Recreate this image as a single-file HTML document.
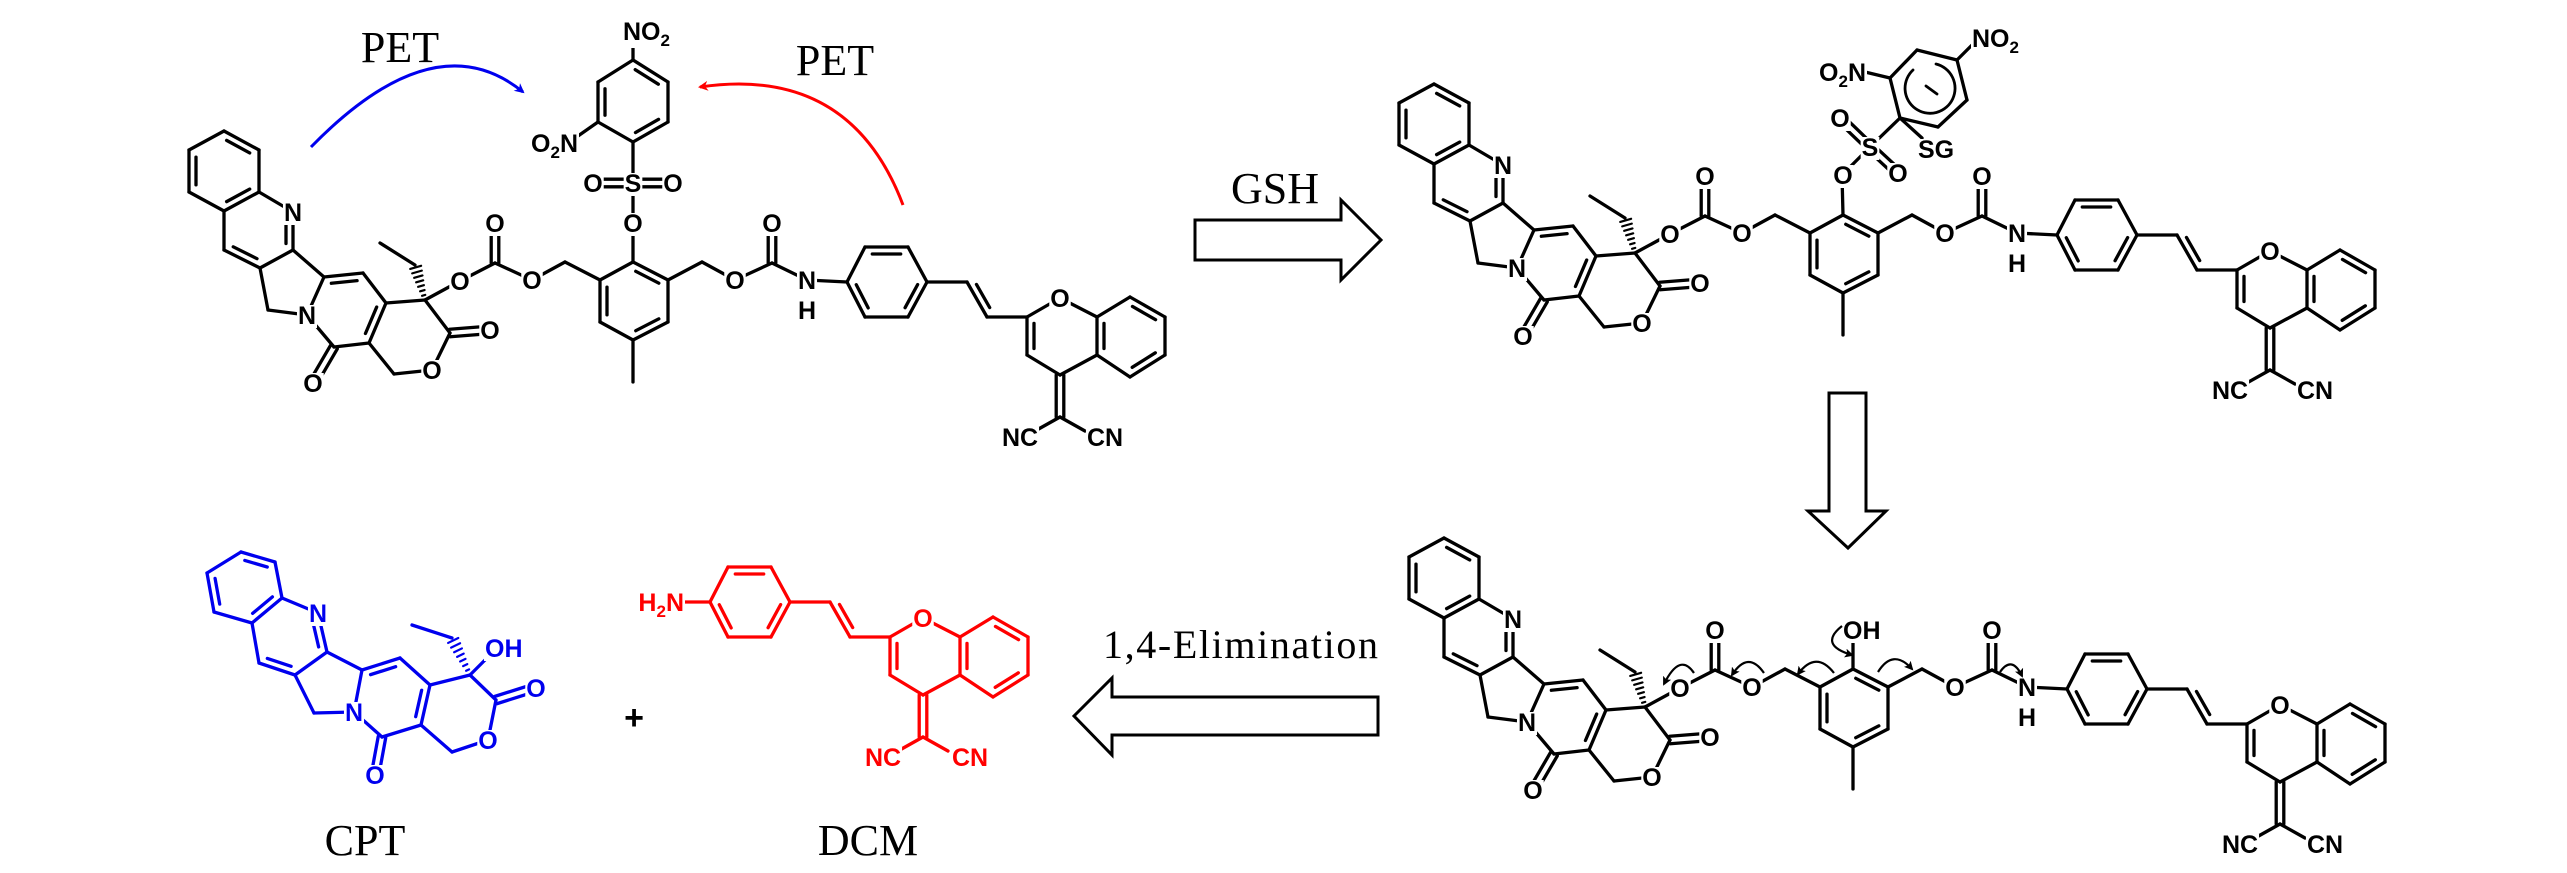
<!DOCTYPE html>
<html><head><meta charset="utf-8">
<style>
html,body{margin:0;padding:0;background:#fff;}
svg{display:block;}
.a{font-family:"Liberation Sans",Arial,sans-serif;font-size:25px;font-weight:bold;text-anchor:middle;}
.k{fill:#000}.bl{fill:#0000ee}.rd{fill:#ff0000}
.t{font-family:"Liberation Serif","Times New Roman",serif;font-size:44px;text-anchor:middle;fill:#000;}
.s{font-size:17px}
</style></head>
<body>
<svg id="s" xmlns="http://www.w3.org/2000/svg" width="2567" height="873" viewBox="0 0 2567 873">
<defs>
<marker id="mb" markerWidth="10" markerHeight="10" refX="8" refY="5" orient="auto" markerUnits="userSpaceOnUse" viewBox="0 0 10 10"><path d="M0,0 L10,5 L0,10 L3,5z" fill="#0000ee"/></marker>
<marker id="mr" markerWidth="10" markerHeight="10" refX="8" refY="5" orient="auto" markerUnits="userSpaceOnUse" viewBox="0 0 10 10"><path d="M0,0 L10,5 L0,10 L3,5z" fill="#ff0000"/></marker>
<marker id="mk" markerWidth="9" markerHeight="9" refX="7" refY="4.5" orient="auto" markerUnits="userSpaceOnUse" viewBox="0 0 9 9"><path d="M0,0 L9,4.5 L0,9 L2,4.5z" fill="#000"/></marker>
</defs>
<rect width="2567" height="873" fill="#fff"/>
<g id="b" stroke-linecap="round" stroke-linejoin="round" fill="none"></g>
<g id="m"></g>

<path d="M311,147 Q435,20 523,92" stroke="#0000ee" stroke-width="3" fill="none" marker-end="url(#mb)"/>
<path d="M903,205 Q850,65 700,87" stroke="#ff0000" stroke-width="3" fill="none" marker-end="url(#mr)"/>
<text class="t" x="400" y="62">PET</text>
<text class="t" x="835" y="75">PET</text>

<polygon points="1195,220 1341,220 1341,200 1381,240 1341,280 1341,260 1195,260" fill="#fff" stroke="#000" stroke-width="3"/>
<text class="t" x="1275" y="203">GSH</text>
<polygon points="1829,393 1866,393 1866,511 1886,511 1848,548 1808,511 1829,511" fill="#fff" stroke="#000" stroke-width="3"/>
<polygon points="1378,697 1112,697 1112,678 1074,716 1112,755 1112,735 1378,735" fill="#fff" stroke="#000" stroke-width="3"/>
<text class="t" x="1103" y="658" style="text-anchor:start;font-size:40px" textLength="275">1,4-Elimination</text>
<text class="t" x="365" y="855">CPT</text>
<text class="t" x="868" y="855">DCM</text>
<text x="634" y="729" style="font-family:'Liberation Sans',sans-serif;font-size:34px;font-weight:bold;text-anchor:middle">+</text>

<g stroke="#000" stroke-width="2.2" fill="none" marker-end="url(#mk)">
<path d="M1694,673 Q1680,652 1664,684"/>
<path d="M1764,673 Q1748,650 1732,675"/>
<path d="M1834,673 Q1816,650 1798,674"/>
<path d="M1842,626 Q1818,645 1852,655"/>
<path d="M1878,672 Q1893,648 1912,669"/>
<path d="M2000,672 Q2012,655 2022,676"/>
</g>

<g class="a k">
<text x="293" y="221">N</text><text x="307" y="324">N</text><text x="313" y="392">O</text>
<text x="432" y="379">O</text><text x="490" y="339">O</text><text x="460" y="290">O</text>
<text x="495" y="232">O</text><text x="532" y="289">O</text><text x="735" y="289">O</text>
<text x="772" y="232">O</text><text x="807" y="289">N</text><text x="807" y="319">H</text>
<text x="1060" y="307">O</text><text x="1020" y="446">NC</text><text x="1105" y="446">CN</text>
<text x="633" y="232">O</text><text x="633" y="192">S</text><text x="593" y="192">O</text><text x="673" y="192">O</text>
<text x="623" y="40" style="text-anchor:start">NO<tspan class="s" dy="6">2</tspan></text>
<text x="578" y="152" style="text-anchor:end">O<tspan class="s" dy="6">2</tspan><tspan dy="-6">N</tspan></text>
</g>
<g class="a k">
<text x="1503" y="174">N</text><text x="1517" y="277">N</text><text x="1523" y="345">O</text>
<text x="1642" y="332">O</text><text x="1700" y="292">O</text><text x="1670" y="243">O</text>
<text x="1705" y="185">O</text><text x="1742" y="242">O</text><text x="1945" y="242">O</text>
<text x="1982" y="185">O</text><text x="2017" y="242">N</text><text x="2017" y="272">H</text>
<text x="2270" y="260">O</text><text x="2230" y="399">NC</text><text x="2315" y="399">CN</text>
<text x="1843" y="184">O</text><text x="1870" y="156">S</text><text x="1840" y="127">O</text><text x="1898" y="182">O</text>
<text x="1866" y="81" style="text-anchor:end">O<tspan class="s" dy="6">2</tspan><tspan dy="-6">N</tspan></text>
<text x="1972" y="47" style="text-anchor:start">NO<tspan class="s" dy="6">2</tspan></text>
<text x="1918" y="158" style="text-anchor:start">SG</text>
</g>
<g class="a k">
<text x="1513" y="628">N</text><text x="1527" y="731">N</text><text x="1533" y="799">O</text>
<text x="1652" y="786">O</text><text x="1710" y="746">O</text><text x="1680" y="697">O</text>
<text x="1715" y="639">O</text><text x="1752" y="696">O</text><text x="1955" y="696">O</text>
<text x="1992" y="639">O</text><text x="2027" y="696">N</text><text x="2027" y="726">H</text>
<text x="2280" y="714">O</text><text x="2240" y="853">NC</text><text x="2325" y="853">CN</text>
<text x="1843" y="639" style="text-anchor:start">OH</text>
</g>
<g class="a bl">
<text x="318" y="622">N</text><text x="354" y="721">N</text><text x="375" y="784">O</text>
<text x="488" y="749">O</text><text x="536" y="697">O</text>
<text x="485" y="657" style="text-anchor:start">OH</text>
</g>
<g class="a rd">
<text x="684" y="611" style="text-anchor:end">H<tspan class="s" dy="6">2</tspan><tspan dy="-6">N</tspan></text>
<text x="923" y="627">O</text><text x="883" y="766">NC</text><text x="970" y="766">CN</text>
</g>
</svg>
<script>
(function(){
var NS='http://www.w3.org/2000/svg',G=document.getElementById('b'),SW=3.3;
function ln(x1,y1,x2,y2,c){var l=document.createElementNS(NS,'line');l.setAttribute('x1',x1);l.setAttribute('y1',y1);l.setAttribute('x2',x2);l.setAttribute('y2',y2);l.setAttribute('stroke',c);l.setAttribute('stroke-width',SW);G.appendChild(l);}
var A={b1:[224,131],b2:[259,150],b3:[259,192],b4:[224,211],b5:[189,192],b6:[189,150],
N1:[293,212],C2:[293,250],C3:[260,268],C4:[224,250],CH2a:[268,310],N2:[307,315],C5:[324,277],C6:[363,273],C7:[386,303],C8:[369,343],C9:[334,347],O9:[313,383],
Q:[425,300],L1:[450,333],OL:[488,330],Or:[432,370],CH2b:[394,374],E1:[415,265],E2:[380,243],
Oc1:[460,281],Cc:[495,263],Occ:[495,223],Oc2:[532,280],M1:[565,262],
R1:[633,262],R2:[668,280],R3:[668,322],R4:[633,340],R5:[600,322],R6:[600,280],Me:[633,382],
M2:[702,262],Ob:[735,280],Cb:[772,263],Ocb:[772,223],Nb:[807,280],
P1:[847,282],P2:[865,247],P3:[908,247],P4:[927,282],P5:[908,317],P6:[865,317],
V1:[967,282],V2:[987,317],K2:[1027,317],KO:[1060,298],K8a:[1097,317],K4a:[1097,355],K4:[1060,375],K3:[1027,355],
Z1:[1130,297],Z2:[1165,317],Z3:[1165,355],Z4:[1130,377],X:[1060,417],XN1:[1035,431],XN2:[1085,431],NH2:[820,282],
Os:[633,223],S:[633,183],OsL:[593,183],OsR:[673,183],D1:[633,142],D2:[598,122],D3:[598,82],D4:[633,60],D5:[668,82],D6:[668,122],DN1:[578,136],DN2:[633,38]};
var C={cb:[224,171],cp:[259,231],cq:[347,308],cr:[634,301],cph:[886,282],vc:[1000,290],cpy:[1062,336],cz:[1131,336],cd:[633,102]};
var core=[['b1','b2',2,'cb'],['b2','b3'],['b3','b4',2,'cb'],['b4','b5'],['b5','b6',2,'cb'],['b6','b1'],['b3','N1'],['N1','C2',2,'cp'],['C2','C3'],['C3','C4',2,'cp'],['C4','b4'],['C3','CH2a'],['CH2a','N2'],['N2','C5'],['C5','C2'],['C5','C6',2,'cq'],['C6','C7'],['C7','C8',2,'cq'],['C8','C9'],['C9','N2'],['C9','O9','d'],['C7','Q'],['Q','L1'],['L1','OL','d'],['L1','Or'],['Or','CH2b'],['CH2b','C8'],['Q','E1','h'],['E1','E2']];
var dye=[['P1','P2'],['P2','P3',2,'cph'],['P3','P4'],['P4','P5',2,'cph'],['P5','P6'],['P6','P1',2,'cph'],['P4','V1'],['V1','V2',2,'vc'],['V2','K2'],['K2','KO'],['KO','K8a'],['K8a','K4a',2,'cz'],['K4a','K4'],['K4','K3'],['K3','K2',2,'cpy'],['K8a','Z1'],['Z1','Z2',2,'cz'],['Z2','Z3'],['Z3','Z4',2,'cz'],['Z4','K4a'],['K4','X','d'],['X','XN1'],['X','XN2']];
var link=[['Q','Oc1'],['Oc1','Cc'],['Cc','Occ','d'],['Cc','Oc2'],['Oc2','M1'],['M1','R6'],['R1','R2',2,'cr'],['R2','R3'],['R3','R4',2,'cr'],['R4','R5'],['R5','R6',2,'cr'],['R6','R1'],['R4','Me'],['R2','M2'],['M2','Ob'],['Ob','Cb'],['Cb','Ocb','d'],['Cb','Nb'],['Nb','P1']].concat(dye);
var top1=[['R1','Os'],['Os','S'],['S','OsL','d'],['S','OsR','d'],['S','D1'],['D1','D2'],['D2','D3',2,'cd'],['D3','D4'],['D4','D5',2,'cd'],['D5','D6'],['D6','D1',2,'cd'],['D2','DN1'],['D4','DN2']];
function draw(atoms,centers,list,dx,dy,col){
 list.forEach(function(b){
  var p=atoms[b[0]],q=atoms[b[1]];
  var x1=p[0]+dx,y1=p[1]+dy,x2=q[0]+dx,y2=q[1]+dy;
  var vx=x2-x1,vy=y2-y1,L=Math.hypot(vx,vy),ux=vx/L,uy=vy/L,nx=-uy,ny=ux;
  if(b[2]==='d'){ln(x1+nx*3.8,y1+ny*3.8,x2+nx*3.8,y2+ny*3.8,col);ln(x1-nx*3.8,y1-ny*3.8,x2-nx*3.8,y2-ny*3.8,col);return;}
  if(b[2]==='h'){for(var i=1;i<=7;i++){var t=i/7.5,w=1+t*5;var cx=x1+vx*t,cy=y1+vy*t;var l=document.createElementNS(NS,'line');l.setAttribute('x1',cx+nx*w);l.setAttribute('y1',cy+ny*w);l.setAttribute('x2',cx-nx*w);l.setAttribute('y2',cy-ny*w);l.setAttribute('stroke',col);l.setAttribute('stroke-width',2.2);G.appendChild(l);}return;}
  ln(x1,y1,x2,y2,col);
  if(b[2]===2){var c=centers[b[3]],cx=c[0]+dx,cy=c[1]+dy,mx=(x1+x2)/2,my=(y1+y2)/2;
   if((cx-mx)*nx+(cy-my)*ny<0){nx=-nx;ny=-ny;}
   var o=7,s=L*0.17;ln(x1+nx*o+ux*s,y1+ny*o+uy*s,x2+nx*o-ux*s,y2+ny*o-uy*s,col);}
 });
}
var K='#000';
draw(A,C,core.concat(link).concat(top1),0,0,K);
draw(A,C,core.concat(link),1210,-47,K);
var A2={R1:[1843,215],Os:[1842,175],S:[1870,147],Oa:[1840,118],Ob2:[1898,173],Cs:[1900,118],Ca:[1890,78],Cb2:[1917,50],Cc2:[1957,60],Cd:[1967,100],Ce:[1938,127],n1:[1865,72],n2:[1975,42],sg:[1922,138]};
draw(A2,{},[['R1','Os'],['Os','S'],['S','Oa','d'],['S','Ob2','d'],['S','Cs'],['Cs','Ca'],['Ca','Cb2'],['Cb2','Cc2'],['Cc2','Cd'],['Cd','Ce'],['Ce','Cs'],['Ca','n1'],['Cc2','n2'],['Cs','sg']],0,0,K);
var arc=document.createElementNS(NS,'path');arc.setAttribute('d','M1913,70 A25,25 0 1 0 1936,64');arc.setAttribute('stroke',K);arc.setAttribute('stroke-width',2.8);G.appendChild(arc);
var mi=document.createElementNS(NS,'line');mi.setAttribute('x1',1926);mi.setAttribute('y1',86);mi.setAttribute('x2',1937);mi.setAttribute('y2',94);mi.setAttribute('stroke',K);mi.setAttribute('stroke-width',2.8);G.appendChild(mi);
draw(A,C,core.concat(link),1220,407,K);
ln(1853,669,1853,640,K);
var B={B1:[241,552],B2:[275,562],B3:[282,598],B4:[252,623],B5:[214,612],B6:[207,573],N1:[318,613],C2:[327,652],C3:[295,675],C4:[259,663],CH2a:[314,713],N2:[354,712],C5:[362,670],C6:[400,658],C7:[430,685],C8:[421,725],C9:[382,737],O9:[375,775],Q:[470,675],L1:[496,700],OL:[534,688],Or:[488,740],CH2b:[452,752],E1:[452,638],E2:[412,625],OH:[490,655]};
var BC={cb:[245,588],cp:[289,638],cq:[392,700]};
draw(B,BC,[['B1','B2',2,'cb'],['B2','B3'],['B3','B4',2,'cb'],['B4','B5'],['B5','B6',2,'cb'],['B6','B1'],['B3','N1'],['N1','C2',2,'cp'],['C2','C3'],['C3','C4',2,'cp'],['C4','B4'],['C3','CH2a'],['CH2a','N2'],['N2','C5'],['C5','C2'],['C5','C6',2,'cq'],['C6','C7'],['C7','C8',2,'cq'],['C8','C9'],['C9','N2'],['C9','O9','d'],['C7','Q'],['Q','L1'],['L1','OL','d'],['L1','Or'],['Or','CH2b'],['CH2b','C8'],['Q','E1','h'],['E1','E2'],['Q','OH']],0,0,'#0000ee');
draw(A,C,dye.concat([['P1','NH2']]),-137,320,'#ff0000');
// white masks behind atom labels
var M=document.getElementById('m');
document.querySelectorAll('text.a, .a text').forEach(function(t){
 try{var bb=t.getBBox();var r=document.createElementNS(NS,'rect');
 r.setAttribute('x',bb.x-1);r.setAttribute('y',bb.y+3);r.setAttribute('width',bb.width+2);r.setAttribute('height',bb.height-5);r.setAttribute('fill','#fff');M.appendChild(r);}catch(e){}
});
})();
</script>
</body></html>
